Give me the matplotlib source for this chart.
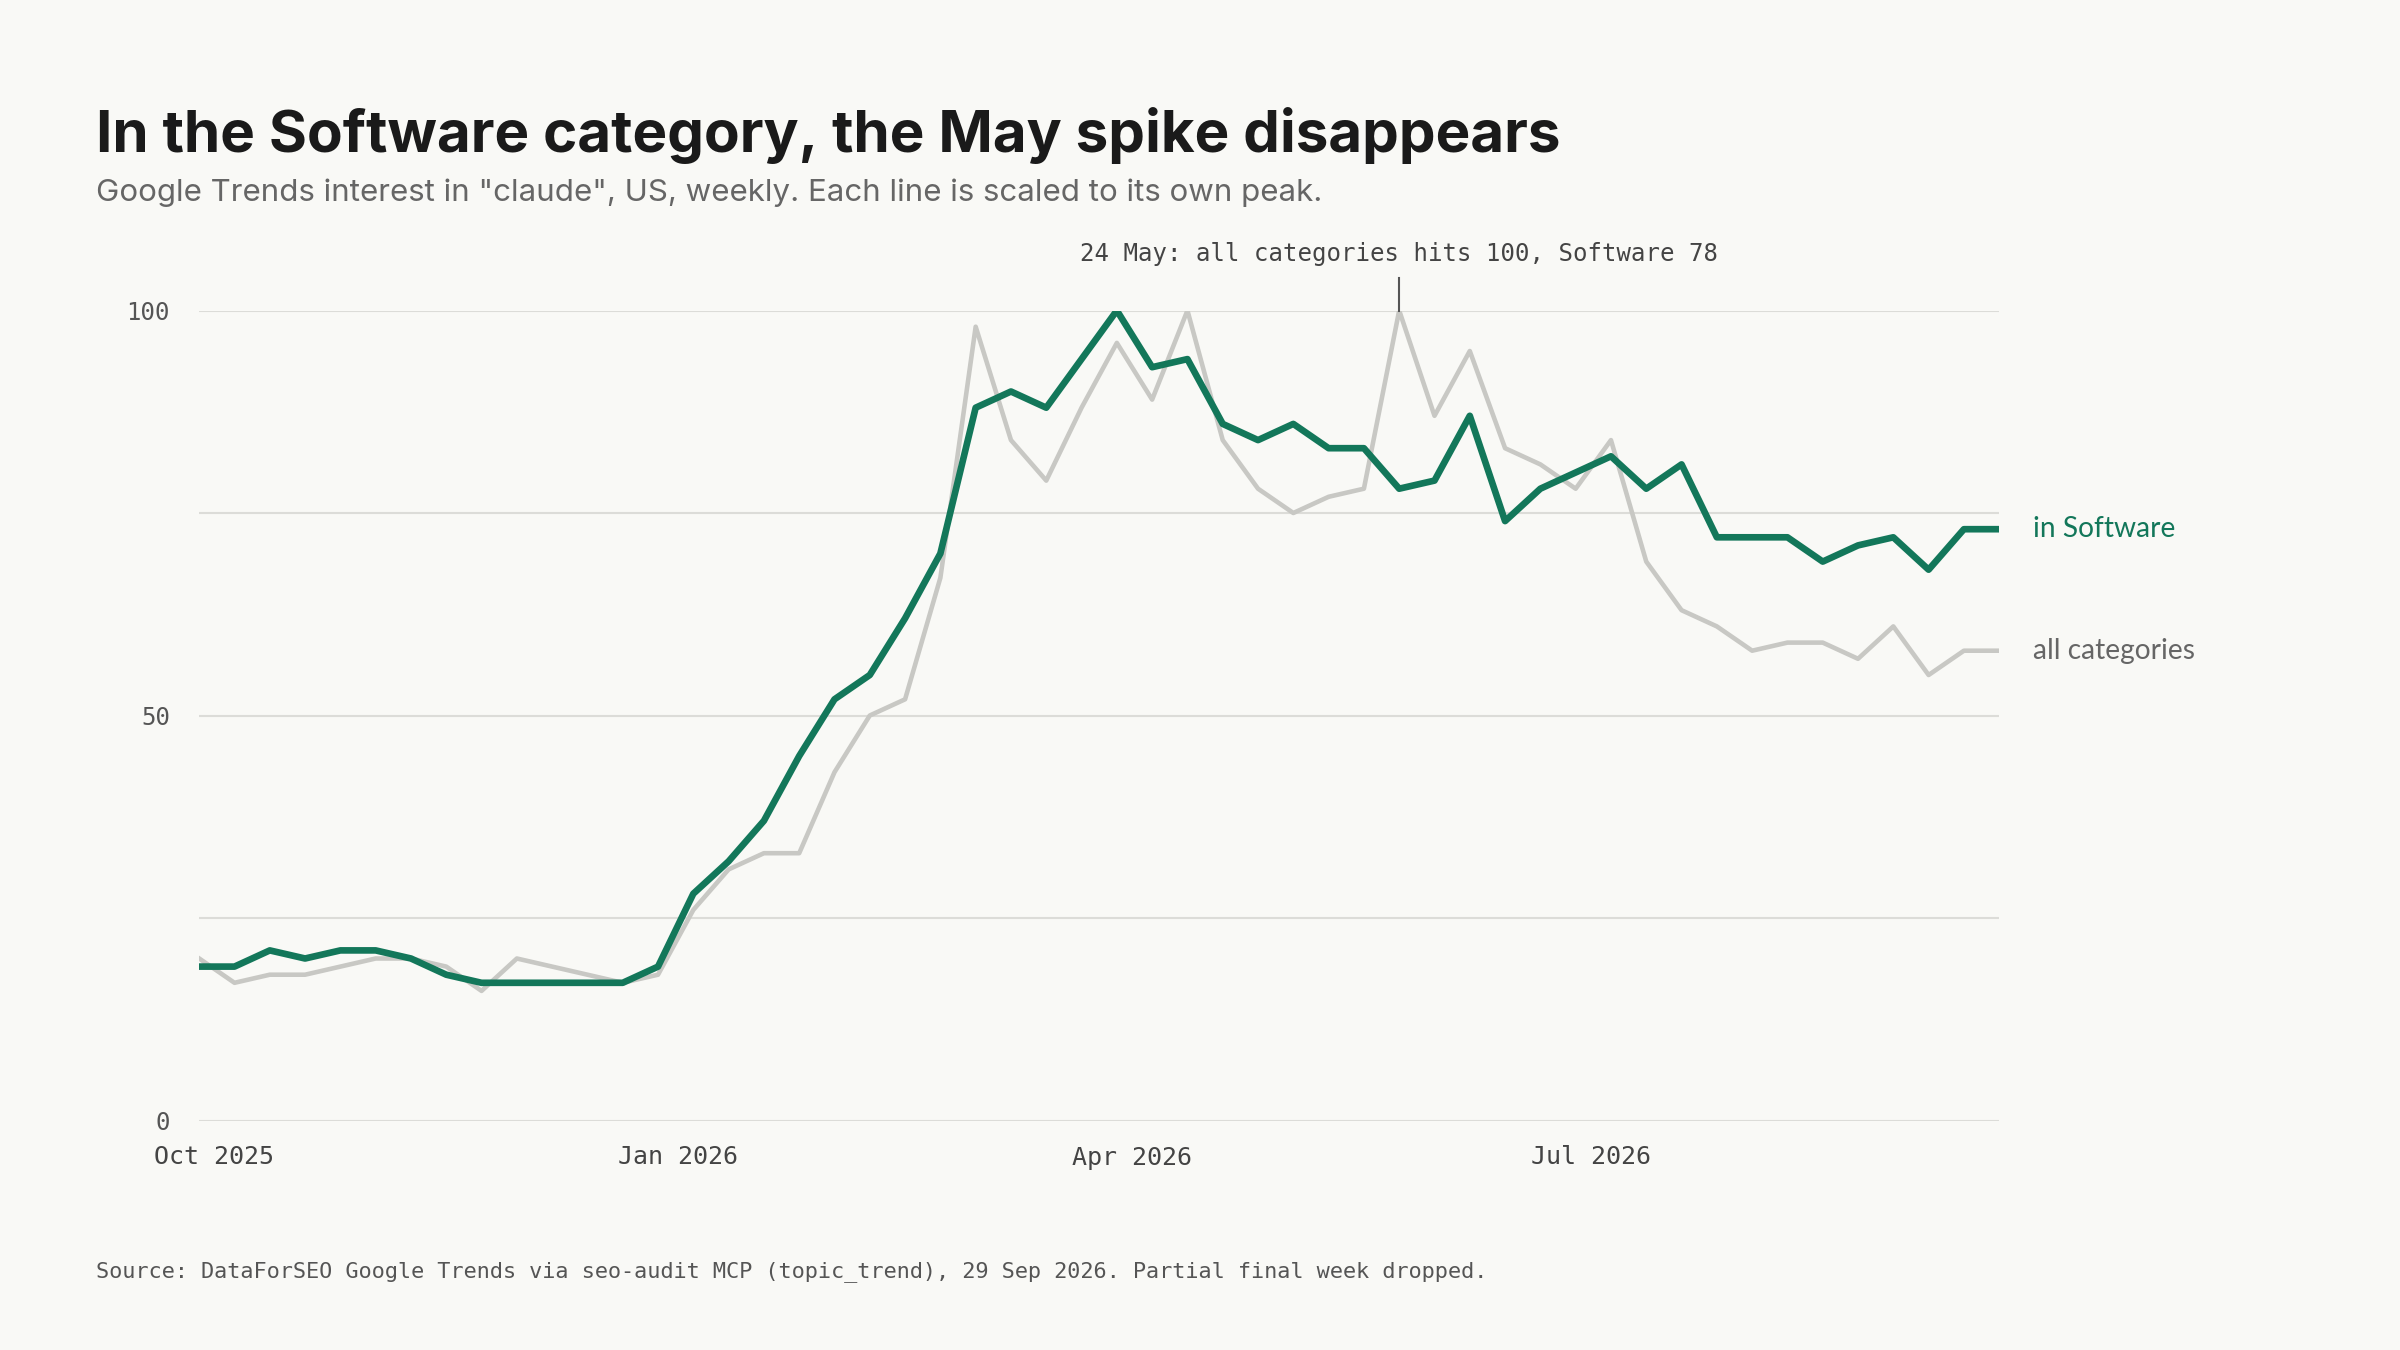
import numpy as np
import pandas as pd
import matplotlib.pyplot as plt
import matplotlib.dates as mdates

dates = pd.date_range("2025-09-28", periods=52, freq="7D")
software = [19, 19, 21, 20, 21, 21, 20, 18, 17, 17, 17, 17, 17, 19, 28, 32, 37, 45, 52, 55,
            62, 70, 88, 90, 88, 94, 100, 93, 94, 86, 84, 86, 83, 83, 78, 79, 87, 74, 78, 80,
            82, 78, 81, 72, 72, 72, 69, 71, 72, 68, 73, 73]
all_cats = [20, 17, 18, 18, 19, 20, 20, 19, 16, 20, 19, 18, 17, 18, 26, 31, 33, 33, 43, 50,
            52, 67, 98, 84, 79, 88, 96, 89, 100, 84, 78, 75, 77, 78, 100, 87, 95, 83, 81, 78,
            84, 69, 63, 61, 58, 59, 59, 57, 61, 55, 58, 58]

bg = "#f9f9f6"
green = "#13775a"
grey = "#c8c8c4"
mono = ["DejaVu Sans Mono"]

fig = plt.figure(figsize=(16, 9), dpi=150, facecolor=bg)
ax = fig.add_axes([0.083, 0.17, 0.75, 0.6], facecolor=bg)

ax.plot(dates, all_cats, color=grey, lw=2.2, zorder=2)
ax.plot(dates, software, color=green, lw=3.2, zorder=3)

ax.set_ylim(0, 100)
ax.set_xlim(dates[0], dates[-1])
ax.set_yticks([0, 25, 50, 75, 100])
ax.set_yticklabels(["0", "", "50", "", "100"], fontfamily=mono, fontsize=11.5, color="#555")
ax.grid(axis="y", color="#dcdcd8", lw=1)
ax.tick_params(length=0, pad=12)
ax.tick_params(axis="y", pad=14)
for lbl in ax.get_yticklabels():
    lbl.set_horizontalalignment("right")
ax.xaxis.set_major_locator(mdates.MonthLocator(bymonth=[1, 4, 7, 10]))
ax.xaxis.set_major_formatter(mdates.DateFormatter("%b %Y"))
for lbl in ax.get_xticklabels():
    lbl.set_fontfamily(mono)
    lbl.set_fontsize(12)
    lbl.set_color("#444")
for s in ax.spines.values():
    s.set_visible(False)

# end labels
ax.annotate("in Software", (dates[-1], software[-1]), xytext=(16, 0), textcoords="offset points",
            va="center", color=green, fontsize=13.5, family="Lato", annotation_clip=False)
ax.annotate("all categories", (dates[-1], all_cats[-1]), xytext=(16, 0), textcoords="offset points",
            va="center", color="#666", fontsize=13.5, family="Lato", annotation_clip=False)

# spike annotation
spike = pd.Timestamp("2026-05-24")
ax.plot([spike, spike], [100, 104], color="#555", lw=1, clip_on=False)
ax.text(spike, 105.5, "24 May: all categories hits 100, Software 78", ha="center", va="bottom",
        fontfamily=mono, fontsize=11.5, color="#444", clip_on=False)

fig.text(0.04, 0.9, "In the Software category, the May spike disappears", fontsize=28,
         fontweight="bold", family="Inter", color="#1a1a1a", va="center")
fig.text(0.04, 0.857, 'Google Trends interest in "claude", US, weekly. Each line is scaled to its own peak.',
         fontsize=15, family="Inter", color="#666", va="center")
fig.text(0.04, 0.058, "Source: DataForSEO Google Trends via seo-audit MCP (topic_trend), 29 Sep 2026. "
         "Partial final week dropped.", fontfamily=mono, fontsize=10.5, color="#555", va="center")

fig.savefig("out.png", dpi=150, facecolor=bg)
